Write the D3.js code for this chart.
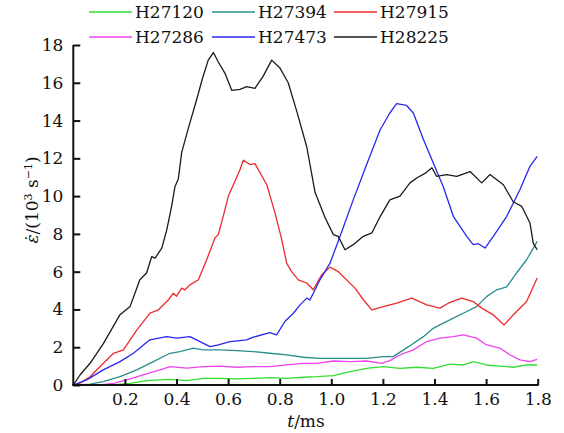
<!DOCTYPE html>
<html><head><meta charset="utf-8">
<script src="https://cdn.jsdelivr.net/npm/d3@7"></script>
<style>body{margin:0;background:#fff}svg{display:block}</style>
</head><body><svg id="c" width="564" height="433"></svg>
<script>
const names = ["H27120","H27394","H27915","H27286","H27473","H28225"];
const colors = ["#33dd33","#2a8c8c","#ee2a2a","#ee44ee","#2828ee","#1a1a1a"];
const xTicks = [0.2,0.4,0.6,0.8,1.0,1.2,1.4,1.6,1.8];
const yTicks = [0,2,4,6,8,10,12,14,16,18];

const tGreen = [0.15,0.22,0.285,0.375,0.44,0.504,0.569,0.633,0.698,0.762,0.827,0.892,0.943,1.008,1.073,1.137,1.202,1.266,1.331,1.395,1.46,1.512,1.55,1.602,1.654,1.705,1.757,1.798];
const vGreen = [0,0.09,0.23,0.3,0.23,0.35,0.35,0.32,0.35,0.39,0.35,0.41,0.44,0.5,0.71,0.88,0.97,0.88,0.94,0.88,1.1,1.06,1.24,1.06,1.0,0.94,1.06,1.06];

const tTeal = [0.03,0.065,0.116,0.181,0.246,0.31,0.375,0.413,0.465,0.504,0.569,0.633,0.698,0.762,0.827,0.892,0.956,1.008,1.073,1.137,1.202,1.24,1.28,1.318,1.357,1.395,1.421,1.473,1.525,1.563,1.602,1.641,1.68,1.718,1.757,1.798];
const vTeal = [0,0.05,0.18,0.44,0.8,1.24,1.68,1.77,1.95,1.86,1.86,1.82,1.77,1.68,1.59,1.47,1.41,1.41,1.41,1.41,1.5,1.5,1.86,2.2,2.56,3.0,3.18,3.54,3.89,4.15,4.68,5.04,5.2,5.93,6.63,7.6];

const tRed = [0,0.026,0.065,0.103,0.156,0.194,0.246,0.297,0.33,0.368,0.388,0.40,0.42,0.433,0.452,0.485,0.517,0.549,0.562,0.581,0.601,0.627,0.646,0.659,0.685,0.704,0.75,0.782,0.808,0.827,0.846,0.872,0.905,0.93,0.963,0.995,1.027,1.092,1.125,1.157,1.202,1.253,1.312,1.37,1.421,1.453,1.505,1.55,1.583,1.628,1.67,1.705,1.757,1.798];
const vRed = [0,0.1,0.44,0.97,1.68,1.86,2.9,3.8,3.98,4.5,4.86,4.7,5.13,5.04,5.3,5.57,6.63,7.78,7.96,8.93,10.0,10.8,11.4,11.9,11.67,11.72,10.6,9.1,7.7,6.45,6.0,5.57,5.4,5.04,5.84,6.24,6.0,5.13,4.5,3.98,4.15,4.33,4.6,4.24,4.07,4.33,4.6,4.42,4.07,3.71,3.18,3.71,4.42,5.66];

const tMagenta = [0.1,0.156,0.207,0.271,0.336,0.375,0.44,0.504,0.569,0.633,0.698,0.762,0.827,0.892,0.943,1.008,1.073,1.137,1.195,1.227,1.266,1.318,1.37,1.421,1.473,1.512,1.563,1.602,1.654,1.693,1.731,1.77,1.798];
const vMagenta = [0,0.09,0.27,0.53,0.8,0.97,0.89,0.97,1.0,0.94,0.97,0.97,1.06,1.15,1.15,1.27,1.24,1.27,1.15,1.29,1.59,1.86,2.3,2.48,2.56,2.65,2.48,2.12,1.95,1.59,1.33,1.24,1.36];

const tBlue = [0,0.052,0.116,0.181,0.233,0.297,0.362,0.40,0.452,0.491,0.53,0.562,0.607,0.672,0.698,0.762,0.788,0.82,0.853,0.879,0.905,0.917,0.937,0.956,0.995,1.034,1.085,1.137,1.189,1.227,1.253,1.292,1.318,1.357,1.395,1.434,1.473,1.525,1.55,1.57,1.596,1.628,1.68,1.731,1.77,1.798];
const vBlue = [0,0.27,0.8,1.24,1.68,2.39,2.56,2.48,2.56,2.3,2.03,2.12,2.3,2.39,2.53,2.77,2.65,3.36,3.8,4.24,4.6,4.5,5.04,5.57,6.45,7.87,9.8,11.67,13.5,14.4,14.9,14.8,14.4,13.0,11.76,10.5,8.93,7.87,7.43,7.48,7.25,7.87,8.93,10.34,11.58,12.1];

const tBlack = [0,0.026,0.065,0.117,0.18,0.22,0.258,0.284,0.304,0.317,0.343,0.362,0.381,0.394,0.407,0.42,0.446,0.478,0.50,0.523,0.543,0.562,0.588,0.614,0.646,0.672,0.704,0.736,0.769,0.80,0.833,0.866,0.905,0.937,0.976,1.008,1.027,1.053,1.085,1.124,1.157,1.19,1.227,1.266,1.305,1.331,1.363,1.39,1.408,1.447,1.486,1.538,1.583,1.615,1.667,1.705,1.738,1.77,1.783,1.798];
const vBlack = [0,0.53,1.15,2.2,3.7,4.15,5.57,5.93,6.8,6.72,7.25,8.2,9.46,10.5,10.9,12.3,13.6,15.1,16.2,17.2,17.6,17.1,16.5,15.6,15.65,15.8,15.7,16.35,17.2,16.8,16.0,14.5,12.6,10.2,8.85,7.96,7.87,7.16,7.43,7.87,8.05,8.93,9.8,10.0,10.7,10.96,11.2,11.5,11.05,11.14,11.05,11.3,10.7,11.14,10.6,9.7,9.46,8.58,7.5,7.16];

const seriesT = [tGreen,tTeal,tRed,tMagenta,tBlue,tBlack];
const seriesV = [vGreen,vTeal,vRed,vMagenta,vBlue,vBlack];

const FONT = "DejaVu Serif";
const svg = d3.select("#c");
const x = d3.scaleLinear().domain([0,1.8]).range([73.3,537.7]);
const y = d3.scaleLinear().domain([0,18]).range([385,45]);

const line = d3.line().x(d=>x(d[0])).y(d=>y(d[1]));
[3,0,1,2,4,5].forEach(i=>{
  const pts = seriesT[i].map((t,k)=>[t,seriesV[i][k]]);
  svg.append("path").datum(pts).attr("d",line)
    .attr("fill","none").attr("stroke",colors[i]).attr("stroke-width",1.3)
    .attr("stroke-linejoin","round");
});

const gx = svg.append("g").attr("transform","translate(0,385)")
  .call(d3.axisBottom(x).tickValues(xTicks).tickFormat(d3.format(".1f")).tickSizeInner(-6).tickSizeOuter(0).tickPadding(8));
const gy = svg.append("g").attr("transform","translate(73.3,0)")
  .call(d3.axisLeft(y).tickValues(yTicks).tickFormat(d3.format("d")).tickSizeInner(-7).tickSizeOuter(0).tickPadding(10));
[gx,gy].forEach(g=>{
  g.select(".domain").attr("stroke","#111").attr("stroke-width",2);
  g.selectAll(".tick line").attr("stroke","#111").attr("stroke-width",2);
  g.selectAll(".tick text").attr("font-family",FONT).attr("font-size",17).attr("fill","#111");
});
gx.select(".domain").attr("d","M72.3,0H538.7");
gy.select(".domain").attr("d","M0,45V386");

const xt = svg.append("text").attr("x",306).attr("y",427).attr("text-anchor","middle")
  .attr("font-family",FONT).attr("font-size",17).attr("fill","#111");
xt.append("tspan").attr("font-style","italic").text("t");
xt.append("tspan").text("/ms");

const yt = svg.append("text").attr("transform","translate(38,200) rotate(-90)").attr("text-anchor","middle")
  .attr("font-family",FONT).attr("font-size",17).attr("fill","#111");
yt.append("tspan").attr("font-style","italic").text("\u03B5\u0307");
yt.append("tspan").text("/(10");
yt.append("tspan").attr("font-size",11).attr("dy",-6).text("3");
yt.append("tspan").attr("dy",6).text(" s");
yt.append("tspan").attr("font-size",11).attr("dy",-6).text("\u22121");
yt.append("tspan").attr("dy",6).text(")");

const legX = [89,212,334];
const legY = [12,37];
names.forEach((n,i)=>{
  const cx = legX[i%3], cy = legY[Math.floor(i/3)];
  svg.append("line").attr("x1",cx).attr("x2",cx+43).attr("y1",cy).attr("y2",cy)
    .attr("stroke",colors[i]).attr("stroke-width",1.3);
  svg.append("text").attr("x",cx+46).attr("y",cy+6).attr("font-family",FONT)
    .attr("font-size",17).attr("fill","#111").text(n);
});
</script></body></html>
